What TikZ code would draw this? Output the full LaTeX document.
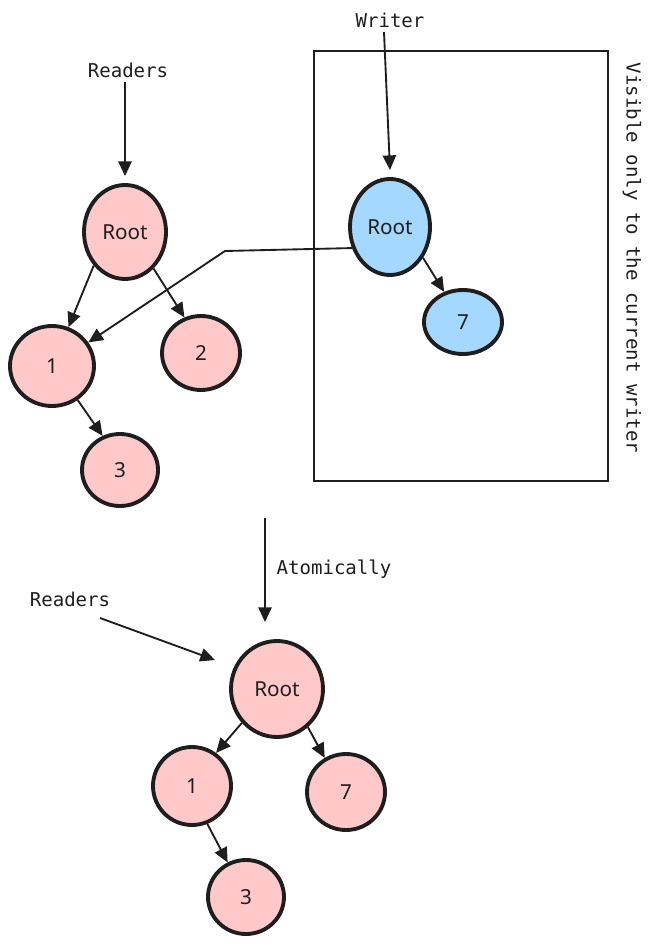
\documentclass[tikz,border=0pt]{standalone}
\usepackage{fontspec}
\usetikzlibrary{shapes.geometric,arrows.meta}
\newfontfamily\monof{DejaVu Sans Mono}
\newfontfamily\nodef{Noto Sans}
\definecolor{ink}{HTML}{1E1E1E}
\definecolor{pinkf}{HTML}{FFC9C9}
\definecolor{bluef}{HTML}{A5D8FF}
\newdimen\pxu \pxu=0.75pt
\tikzset{
  tnode/.style={ellipse, draw=ink, line width=2.9pt, inner sep=0pt, font=\nodef\fontsize{15.5}{18}\selectfont, text=ink},
  pnode/.style={tnode, fill=pinkf},
  bnode/.style={tnode, fill=bluef},
  lbl/.style={font=\monof\fontsize{14.3}{16}\selectfont, text=ink},
  arr/.style={draw=ink, line width=1.4pt, -{Triangle[length=11pt,width=10pt]}},
}
\begin{document}
\begin{tikzpicture}[x=0.75pt,y=-0.75pt]
\useasboundingbox (0,0) rectangle (655,944);
% top-left tree
\node[lbl] (rdA) at (128,70) {Readers};
\node[pnode, minimum width=82\pxu, minimum height=94\pxu] (rootA) at (125,232) {Root};
\node[pnode, minimum width=84\pxu, minimum height=80\pxu] (n1A) at (52,366) {1};
\node[pnode, minimum width=78\pxu, minimum height=74\pxu] (n2A) at (201,353) {2};
\node[pnode, minimum width=76\pxu, minimum height=72\pxu] (n3A) at (120,470) {3};
\draw[arr] (rdA.south -| rootA.north) -- ([yshift=7\pxu]rootA.north);
\draw[arr] (rootA.227) -- (n1A.67);
\draw[arr] (rootA.308) -- (n2A.115);
\draw[arr] (n1A.307) -- (n3A.117);
% writer box
\node[draw=ink, line width=1.3pt, minimum width=294\pxu, minimum height=430\pxu, inner sep=0pt] (box) at (461,266) {};
\node[lbl, rotate=-90] (vis) at (632,258) {Visible only to the current writer};
\node[lbl] (wr) at (390,20) {Writer};
\node[bnode, minimum width=80\pxu, minimum height=96\pxu] (rootB) at (390,227) {Root};
\node[bnode, minimum width=78\pxu, minimum height=64\pxu] (n7B) at (463,322) {7};
\draw[arr] ([xshift=-6\pxu]wr.south) -- ([yshift=7\pxu]rootB.north);
\draw[arr] (rootB.317) -- (n7B.122);
\coordinate (bend) at (225,251);
\draw[arr] (rootB.209) -- (bend) -- (n1A.33);
% bottom
\coordinate (atS) at (265,518);
\coordinate (atE) at (265,622);
\draw[arr] (atS) -- (atE);
\node[lbl] (atom) at (334,569) {Atomically};
\node[lbl] (rdB) at (70,599) {Readers};
\coordinate (rdS) at (100,618);
\coordinate (rdE) at (215,660);
\draw[arr] (rdS) -- (rdE);
\node[pnode, minimum width=92\pxu, minimum height=96\pxu] (rootC) at (277,689) {Root};
\node[pnode, minimum width=78\pxu, minimum height=78\pxu] (n1C) at (192,786) {1};
\node[pnode, minimum width=78\pxu, minimum height=76\pxu] (n7C) at (346,792) {7};
\node[pnode, minimum width=76\pxu, minimum height=74\pxu] (n3C) at (246,897) {3};
\draw[arr] (rootC.224) -- (n1C.54);
\draw[arr] (rootC.309) -- (n7C.122);
\draw[arr] (n1C.292) -- (n3C.118);
\end{tikzpicture}
\end{document}
